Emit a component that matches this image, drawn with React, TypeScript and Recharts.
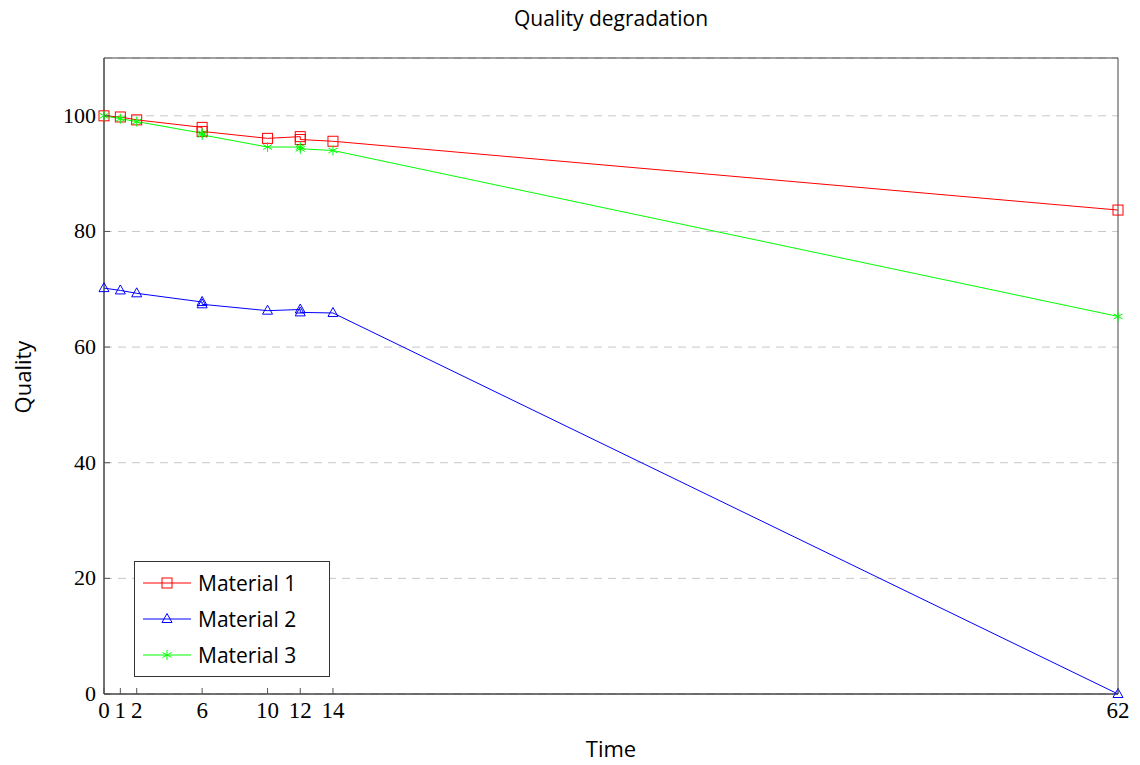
import { CartesianGrid, Line, LineChart, ReferenceArea, XAxis, YAxis } from "recharts"

const times = [0, 1, 2, 6, 6, 10, 12, 12, 14, 62]
const material1 = [100, 99.8, 99.3, 98.0, 97.3, 96.1, 96.4, 95.9, 95.6, 83.7]
const material2 = [70.2, 69.8, 69.3, 67.8, 67.4, 66.3, 66.5, 66.0, 65.9, 0]
const material3 = [100, 99.5, 99.0, 97.0, 96.7, 94.6, 94.6, 94.3, 94.0, 65.3]
const xTicks = [0, 1, 2, 6, 10, 12, 14, 62]
const yTicks = [0, 20, 40, 60, 80, 100]
const seriesNames = ["Material 1", "Material 2", "Material 3"]

const toRows = (vals: number[]) => times.map((t, i) => ({ time: t, value: vals[i] }))

const RED = "#ff0000"
const BLUE = "#0000ff"
const GREEN = "#00ff00"
const SERIF = "'Liberation Serif', serif"
const SANS = "'Open Sans', sans-serif"

const Square = ({ cx, cy, color }: any) => (
    <rect x={cx - 5} y={cy - 5} width={10} height={10} fill="none" stroke={color} strokeWidth={1} />
)
const Triangle = ({ cx, cy, color }: any) => (
    <path d={`M${cx},${cy - 5.5} L${cx + 5},${cy + 3.5} L${cx - 5},${cy + 3.5} Z`} fill="none" stroke={color} strokeWidth={1} />
)
const Star = ({ cx, cy, color }: any) => (
    <g stroke={color} strokeWidth={1}>
        <line x1={cx} y1={cy - 5} x2={cx} y2={cy + 5} />
        <line x1={cx - 4.5} y1={cy - 2.5} x2={cx + 4.5} y2={cy + 2.5} />
        <line x1={cx - 4.5} y1={cy + 2.5} x2={cx + 4.5} y2={cy - 2.5} />
    </g>
)

const markers = [Square, Triangle, Star]
const colors = [RED, BLUE, GREEN]

const XTick = ({ x, y, payload }: any) => (
    <g>
        <line x1={x} x2={x} y1={y} y2={y - 6} stroke="#555" strokeWidth={1} />
        <text x={x} y={y + 24} textAnchor="middle" fontFamily={SERIF} fontSize={23} fill="#000">
            {payload.value}
        </text>
    </g>
)

const YTick = ({ x, y, payload }: any) => (
    <g>
        <line x1={x} x2={x + 6} y1={y} y2={y} stroke="#555" strokeWidth={1} />
        <text x={x - 8} y={y + 7} textAnchor="end" fontFamily={SERIF} fontSize={22} fill="#000">
            {payload.value}
        </text>
    </g>
)

const LegendBox = () => (
    <div
        style={{
            position: "absolute",
            left: 134,
            top: 561,
            border: "1px solid #333",
            background: "#fff",
            width: 194,
            padding: "3px 0",
            fontFamily: SANS,
            fontSize: 21,
        }}
    >
        {seriesNames.map((name, i) => {
            const M = markers[i]
            return (
                <div key={name} style={{ display: "flex", alignItems: "center", height: 36 }}>
                    <svg width={60} height={20} style={{ marginLeft: 8 }}>
                        <line x1={0} x2={48} y1={10} y2={10} stroke={colors[i]} strokeWidth={1} />
                        <M cx={24} cy={10} color={colors[i]} />
                    </svg>
                    <span style={{ marginLeft: -5 }}>{name}</span>
                </div>
            )
        })}
    </div>
)

export default function App() {
    const series = [material1, material2, material3]
    return (
        <div style={{ position: "absolute", left: 0, top: 0, width: 1140, height: 765, background: "#fff" }}>
            <div
                style={{
                    position: "absolute",
                    left: 104,
                    width: 1014,
                    top: 4,
                    textAlign: "center",
                    fontFamily: SANS,
                    fontSize: 21,
                }}
            >
                Quality degradation
            </div>
            <div
                style={{
                    position: "absolute",
                    left: 104,
                    width: 1014,
                    top: 733,
                    textAlign: "center",
                    fontFamily: SANS,
                    fontSize: 22,
                }}
            >
                Time
            </div>
            <div
                style={{
                    position: "absolute",
                    left: -28,
                    top: 362,
                    width: 100,
                    textAlign: "center",
                    transform: "rotate(-90deg)",
                    fontFamily: SANS,
                    fontSize: 22,
                }}
            >
                Quality
            </div>
            <LineChart width={1140} height={765} margin={{ top: 58, right: 22, bottom: 41, left: 44 }}>
                <CartesianGrid vertical={false} stroke="#c8c8c8" strokeDasharray="8 6" />
                <XAxis
                    dataKey="time"
                    type="number"
                    domain={[0, 62]}
                    ticks={xTicks}
                    interval={0}
                    height={30}
                    tickLine={false}
                    tickSize={0}
                    tickMargin={0}
                    tick={<XTick />}
                    axisLine={{ stroke: "#444" }}
                    allowDuplicatedCategory={false}
                />
                <YAxis
                    type="number"
                    domain={[0, 110]}
                    ticks={yTicks}
                    width={60}
                    tickLine={false}
                    tickSize={0}
                    tickMargin={0}
                    tick={<YTick />}
                    axisLine={{ stroke: "#444" }}
                />
                <ReferenceArea x1={0} x2={62} y1={0} y2={110} fill="none" stroke="#444" strokeWidth={1} ifOverflow="visible" />
                {series.map((vals, i) => {
                    const M = markers[i]
                    return (
                        <Line
                            key={seriesNames[i]}
                            name={seriesNames[i]}
                            data={toRows(vals)}
                            dataKey="value"
                            type="linear"
                            stroke={colors[i]}
                            strokeWidth={1}
                            isAnimationActive={false}
                            dot={(p: any) => <M key={`d-${i}-${p.index}`} cx={p.cx} cy={p.cy} color={colors[i]} />}
                            activeDot={false}
                        />
                    )
                })}
            </LineChart>
            <LegendBox />
        </div>
    )
}
